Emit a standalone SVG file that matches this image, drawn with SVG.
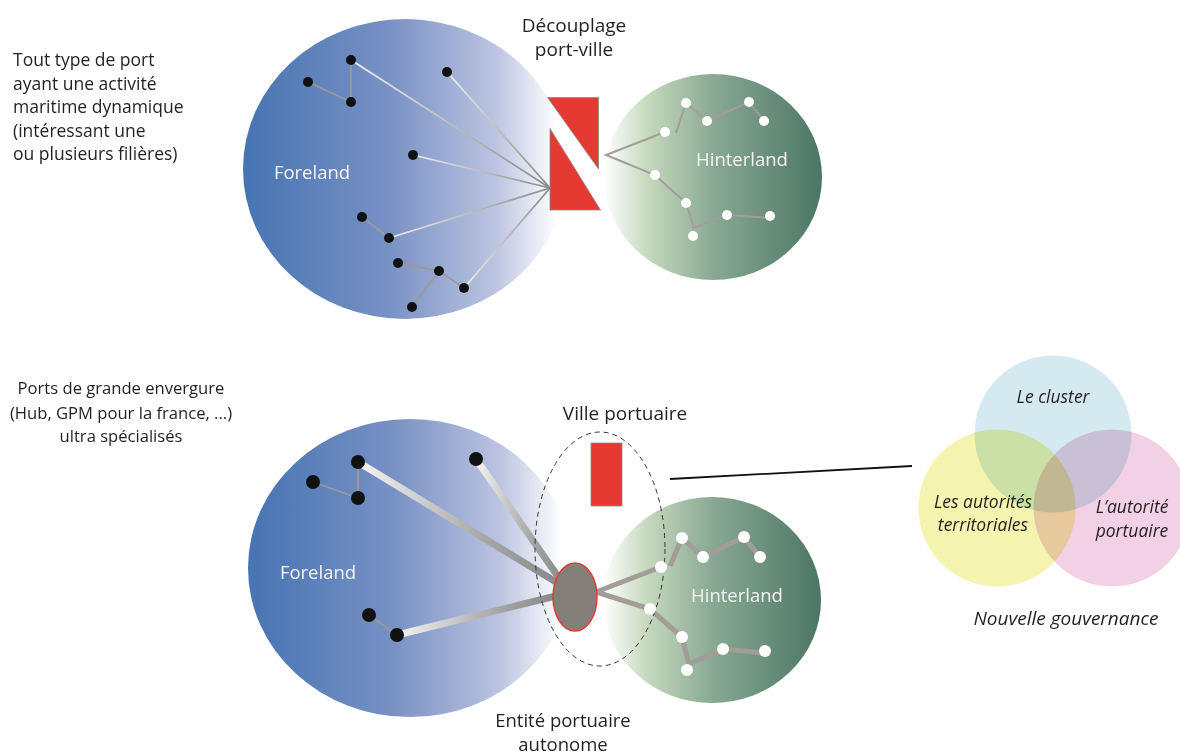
<svg xmlns="http://www.w3.org/2000/svg" width="1180" height="754" viewBox="0 0 1180 754">
<defs>
<linearGradient id="gFore" x1="0" y1="0" x2="1" y2="0">
<stop offset="0" stop-color="#4674b2"/>
<stop offset="0.45" stop-color="#7891c4"/>
<stop offset="0.78" stop-color="#bcc4e1"/>
<stop offset="0.97" stop-color="#ffffff"/>
</linearGradient>
<linearGradient id="gHint" x1="0" y1="0" x2="1" y2="0">
<stop offset="0" stop-color="#ffffff"/>
<stop offset="0.2" stop-color="#c6d9be"/>
<stop offset="0.5" stop-color="#89a993"/>
<stop offset="1" stop-color="#4b7665"/>
</linearGradient>
<linearGradient id="gLine" x1="0" y1="0" x2="1" y2="0">
<stop offset="0" stop-color="#f0f0f0"/>
<stop offset="1" stop-color="#8a8a8a"/>
</linearGradient>
<linearGradient id="gThick" x1="0" y1="0" x2="1" y2="0">
<stop offset="0" stop-color="#f4f4f4"/>
<stop offset="0.6" stop-color="#a8a8a8"/>
<stop offset="1" stop-color="#868686"/>
</linearGradient>
</defs>
<style>
.t{font-family:"Open Sans","Liberation Sans",sans-serif;font-size:17.5px;fill:#231f20}
.s17{font-size:16.6px}
.tc{text-anchor:middle}
.ti{font-style:italic}
.big{font-size:19px}
.lab{font-family:"Open Sans","Liberation Sans",sans-serif;font-size:18.5px;fill:#f4f4f4;text-anchor:middle}
.fl{stroke:url(#gLine);stroke-width:1.8;fill:none}
.ft{stroke:url(#gThick);stroke-width:7;fill:none}
.gl{stroke:#9a9a9a;stroke-width:1.8;fill:none}
.hl{stroke:#a39d97;stroke-width:2;fill:none}
.hL{stroke:#a39d97;stroke-width:5;fill:none}
.bd{fill:#111}
.wd{fill:#ffffff}
.red{fill:#e53a32;stroke:#8c8c8c;stroke-width:0.8}
.venn{mix-blend-mode:multiply;stroke:#ffffff;stroke-width:1}
</style>
<rect width="1180" height="754" fill="#ffffff"/>

<g id="desc-top">
<text class="t" x="13" y="66">Tout type de port</text>
<text class="t" x="13" y="90">ayant une activité</text>
<text class="t" x="13" y="113">maritime dynamique</text>
<text class="t" x="13" y="137">(intéressant une</text>
<text class="t" x="13" y="160">ou plusieurs filières)</text>
</g>
<g id="desc-bottom">
<text class="t s17 tc" x="121" y="394">Ports de grande envergure</text>
<text class="t s17 tc" x="121" y="419">(Hub, GPM pour la france, ...)</text>
<text class="t s17 tc" x="121" y="442">ultra spécialisés</text>
</g>

<g id="foreland-top">
<ellipse cx="405" cy="169" rx="162" ry="150" fill="url(#gFore)"/>
<text class="lab" x="312" y="179">Foreland</text>
</g>
<g id="hinterland-top">
<ellipse cx="713" cy="177" rx="109" ry="103" fill="url(#gHint)"/>
<text class="lab" x="742" y="166">Hinterland</text>
</g>
<g id="port-top">
<polygon class="red" points="547.5,97.5 598.5,97.5 598.5,169"/>
<polygon class="red" points="550,128.5 550,210 600.5,210"/>
<text class="t tc big" x="574" y="32">Découplage</text>
<text class="t tc big" x="574" y="56">port-ville</text>
</g>
<g id="connectors-top">
<line class="fl" x1="351" y1="60" x2="550" y2="188"/>
<line class="fl" x1="447" y1="72" x2="550" y2="188"/>
<line class="fl" x1="413" y1="155" x2="550" y2="188"/>
<line class="fl" x1="389" y1="238" x2="550" y2="188"/>
<line class="fl" x1="464" y1="288" x2="550" y2="188"/>
<polyline class="gl" points="308,82 351,102 351,60"/>
<line class="gl" x1="362" y1="217" x2="389" y2="238"/>
<polyline class="gl" points="398,263 439,271 464,288"/>
<line class="gl" x1="439" y1="271" x2="412" y2="307"/>
<polyline class="hl" points="665,132 606,155 655,175 686,203 694,228 727,215 770,218"/>
<polyline class="hl" points="676,133 686,103 707,121 749,102 764,121"/>
</g>
<g id="nodes-top">
<circle class="bd" cx="351" cy="60" r="5"/>
<circle class="bd" cx="308" cy="82" r="5"/>
<circle class="bd" cx="351" cy="102" r="5"/>
<circle class="bd" cx="447" cy="72" r="5"/>
<circle class="bd" cx="413" cy="155" r="5"/>
<circle class="bd" cx="362" cy="217" r="5"/>
<circle class="bd" cx="389" cy="238" r="5"/>
<circle class="bd" cx="398" cy="263" r="5"/>
<circle class="bd" cx="439" cy="271" r="5"/>
<circle class="bd" cx="464" cy="288" r="5"/>
<circle class="bd" cx="412" cy="307" r="5"/>
<circle class="wd" cx="686" cy="103" r="5"/>
<circle class="wd" cx="707" cy="121" r="5"/>
<circle class="wd" cx="749" cy="102" r="5"/>
<circle class="wd" cx="764" cy="121" r="5"/>
<circle class="wd" cx="665" cy="132" r="5"/>
<circle class="wd" cx="655" cy="175" r="5"/>
<circle class="wd" cx="686" cy="203" r="5"/>
<circle class="wd" cx="727" cy="215" r="5"/>
<circle class="wd" cx="770" cy="216" r="5"/>
<circle class="wd" cx="693" cy="236" r="5"/>
</g>

<g id="foreland-bottom">
<ellipse cx="410" cy="568" rx="162" ry="149" fill="url(#gFore)"/>
<text class="lab" x="318" y="579">Foreland</text>
</g>
<g id="hinterland-bottom">
<ellipse cx="712" cy="600" rx="109" ry="103" fill="url(#gHint)"/>
<text class="lab" x="737" y="602">Hinterland</text>
</g>
<g id="connectors-bottom">
<line class="ft" x1="358" y1="462" x2="566" y2="588"/>
<line class="ft" x1="476" y1="459" x2="566" y2="588"/>
<line class="ft" x1="397" y1="635" x2="560" y2="595"/>
<polyline class="gl" points="313,482 358,498 358,462"/>
<line class="gl" x1="369" y1="615" x2="397" y2="635"/>
<polyline class="hL" points="661,567 596,592 650,609 682,637 689,664 723,649 765,653"/>
<polyline class="hL" points="670,566 682,538 703,557 744,537 760,557"/>
<line stroke="#111" stroke-width="1.8" x1="670" y1="479" x2="912" y2="466"/>
</g>
<g id="port-bottom">
<ellipse cx="575" cy="597" rx="22" ry="34" fill="#857f79" stroke="#e53a32" stroke-width="1.5"/>
<rect class="red" x="591" y="443" width="31" height="63"/>
<ellipse cx="600" cy="549" rx="65" ry="117" fill="none" stroke="#333" stroke-width="1" stroke-dasharray="5,4"/>
<text class="t tc big" x="625" y="420">Ville portuaire</text>
<text class="t tc" style="font-size:18.5px" x="563" y="727">Entité portuaire</text>
<text class="t tc" style="font-size:18.5px" x="563" y="751">autonome</text>
</g>
<g id="nodes-bottom">
<circle class="bd" cx="358" cy="462" r="7"/>
<circle class="bd" cx="313" cy="482" r="7"/>
<circle class="bd" cx="358" cy="498" r="7"/>
<circle class="bd" cx="476" cy="459" r="7"/>
<circle class="bd" cx="369" cy="615" r="7"/>
<circle class="bd" cx="397" cy="635" r="7"/>
<circle class="wd" cx="682" cy="538" r="6"/>
<circle class="wd" cx="703" cy="557" r="6"/>
<circle class="wd" cx="744" cy="537" r="6"/>
<circle class="wd" cx="760" cy="557" r="6"/>
<circle class="wd" cx="661" cy="567" r="6"/>
<circle class="wd" cx="650" cy="609" r="6"/>
<circle class="wd" cx="682" cy="637" r="6"/>
<circle class="wd" cx="723" cy="649" r="6"/>
<circle class="wd" cx="765" cy="651" r="6"/>
<circle class="wd" cx="687" cy="670" r="6"/>
</g>

<g id="venn">
<circle class="venn" cx="1053" cy="434" r="79" fill="#d4eaf0"/>
<circle class="venn" cx="997" cy="508" r="79" fill="#f4f4b0"/>
<circle class="venn" cx="1112" cy="508" r="79" fill="#f3d1e4"/>
<text class="t tc ti" x="1053" y="403">Le cluster</text>
<text class="t tc ti" x="983" y="508">Les autorités</text>
<text class="t tc ti" x="983" y="531">territoriales</text>
<text class="t tc ti" x="1132" y="513">L’autorité</text>
<text class="t tc ti" x="1132" y="537">portuaire</text>
<text class="t tc ti big" x="1066" y="625">Nouvelle gouvernance</text>
</g>
</svg>
